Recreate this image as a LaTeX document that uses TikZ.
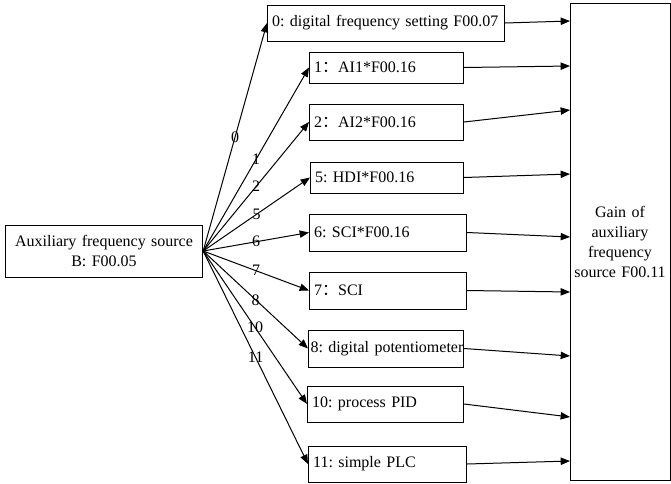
\documentclass[tikz,border=0pt]{standalone}
\usepackage{fontspec}
\setmainfont{Liberation Serif}
\newfontfamily\cjk{Noto Sans CJK SC}
\usetikzlibrary{arrows.meta}
\frenchspacing

\begin{document}
\begin{tikzpicture}[x=0.75pt, y=-0.75pt, line width=0.75pt,
    font=\fontsize{12}{15}\selectfont,
    srcbox/.style={draw, align=center, text width=141pt, minimum height=39pt, inner xsep=3.5pt},
    gainbox/.style={draw, align=center, text width=70pt, minimum height=357.75pt, inner xsep=2.5pt},
    itembox/.style={draw, anchor=west, align=left, inner xsep=3.5pt},
    fan/.style={-{Triangle[length=7pt, width=5.5pt]}},
    feed/.style={-{Triangle[length=7pt, width=5.5pt]}},
    lbl/.style={midway, inner sep=0pt, black}]
  \useasboundingbox (0,0) rectangle (671,483);
  % source and gain
  \node [srcbox] (src) at (104,251) {Auxiliary frequency source\\B: F00.05};
  \node [gainbox] (gain) at (620,241.5) {Gain of\\auxiliary\\frequency\\source F00.11};
  % settings
  \node [itembox, text width=170.75pt, minimum height=27pt] (b0) at (267,23) {\mbox{0: digital frequency setting F00.07}};
  \node [itembox, text width=108.5pt, minimum height=23.25pt] (b1) at (309,67.5) {\mbox{1{\cjk ：}AI1*F00.16}};
  \node [itembox, text width=108.5pt, minimum height=27pt] (b2) at (309,122) {\mbox{2{\cjk ：}AI2*F00.16}};
  \node [itembox, text width=107.75pt, minimum height=23.25pt] (b5) at (310,177.5) {\mbox{5: HDI*F00.16}};
  \node [itembox, text width=110.75pt, minimum height=27.75pt] (b6) at (309,232.5) {\mbox{6: SCI*F00.16}};
  \node [itembox, text width=110.75pt, minimum height=27.75pt] (b7) at (309,290.5) {\mbox{7{\cjk ：}SCI}};
  \node [itembox, text width=113.25pt, inner xsep=1.5pt, minimum height=27.75pt] (b8) at (308,348.5) {\mbox{8: digital potentiometer}};
  \node [itembox, text width=110pt, minimum height=27pt] (b10) at (307,404) {\mbox{10: process PID}};
  \node [itembox, text width=111.5pt, minimum height=27pt] (b11) at (308,464) {\mbox{11: simple PLC}};
  % inputs of the gain
  \coordinate (g0) at (570,21);
  \coordinate (g1) at (570,66);
  \coordinate (g2) at (570,110);
  \coordinate (g5) at (570,174);
  \coordinate (g6) at (570,237);
  \coordinate (g7) at (570,292);
  \coordinate (g8) at (570,356);
  \coordinate (g10) at (570,417);
  \coordinate (g11) at (570,461);
  % Relations
  \draw [fan] (src.east) -- node [lbl] {0} (b0.west);
  \draw [fan] (src.east) -- node [lbl] {1} (b1.west);
  \draw [fan] (src.east) -- node [lbl] {2} (b2.west);
  \draw [fan] (src.east) -- node [lbl] {5} (b5.west);
  \draw [fan] (src.east) -- node [lbl] {6} (b6.west);
  \draw [fan] (src.east) -- node [lbl] {7} (b7.west);
  \draw [fan] (src.east) -- node [lbl] {8} (b8.west);
  \draw [fan] (src.east) -- node [lbl] {10} (b10.west);
  \draw [fan] (src.east) -- node [lbl] {11} (b11.west);
  \draw [feed] (b0.east) -- (g0);
  \draw [feed] (b1.east) -- (g1);
  \draw [feed] (b2.east) -- (g2);
  \draw [feed] (b5.east) -- (g5);
  \draw [feed] (b6.east) -- (g6);
  \draw [feed] (b7.east) -- (g7);
  \draw [feed] (b8.east) -- (g8);
  \draw [feed] (b10.east) -- (g10);
  \draw [feed] (b11.east) -- (g11);
\end{tikzpicture}
\end{document}
